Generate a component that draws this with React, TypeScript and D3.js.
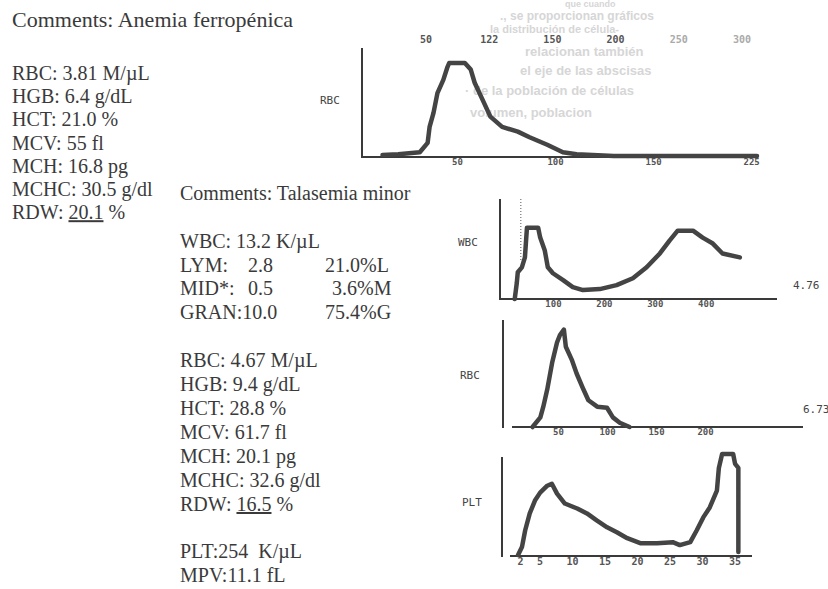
import React, { useEffect, useRef } from 'react';
import * as d3 from 'd3';

// anemia ferropenica - RBC histogram (fL / relative count)
const anemiaRbcFl = [12, 20, 31, 35, 36, 38, 40, 43, 45, 46, 54, 57, 59, 63, 67, 73, 81, 87, 96, 104, 111, 130, 203];
const anemiaRbcCount = [2, 3, 5, 15, 32, 47, 68, 82, 95, 100, 100, 93, 79, 61, 43, 32, 27, 21, 13, 5, 3, 1, 1];
const anemiaTicks = [50, 100, 150, 200];
const anemiaTickLabels = ['50', '100', '150', '225'];
const strayTopLabels = ['50', '122', '150', '200', '250', '300'];

// talasemia minor - WBC histogram
const wbcFl = [25, 29, 31, 39, 45, 49, 71, 75, 84, 90, 100, 120, 139, 159, 192, 225, 257, 284, 310, 329, 345, 375, 394, 414, 433, 467];
const wbcCount = [0, 16, 27, 32, 42, 72, 72, 62, 49, 32, 26, 19, 12, 9, 10, 14, 21, 32, 46, 59, 69, 69, 62, 56, 46, 42];
const wbcTicks = [100, 200, 300, 400];
const wbcThreshold = 37;

// talasemia minor - RBC histogram
const rbcFl = [24, 32, 35, 39, 44, 49, 52, 56, 58, 64, 69, 76, 81, 90, 100, 106, 113, 123];
const rbcCount = [0, 9, 19, 35, 60, 79, 86, 91, 75, 63, 50, 35, 25, 19, 18, 9, 4, 0];
const rbcTicks = [50, 100, 150, 200];

// talasemia minor - PLT histogram
const pltFl = [1.7, 2.3, 2.8, 3.5, 4.3, 5.1, 6.2, 6.9, 7.7, 8.9, 10.8, 12.3, 13.8, 15.4, 16.9, 18.5, 20.5, 23.1, 25.5, 26.6, 28.2, 29.2, 30.2, 31.2, 32.3, 32.6, 33.1, 34.8, 35.1, 35.6, 35.6];
const pltCount = [1, 9, 26, 43, 56, 64, 71, 73, 63, 53, 48, 43, 36, 29, 24, 18, 13, 13, 14, 11, 14, 26, 39, 49, 66, 89, 103, 103, 93, 89, 4];
const pltTicks = [2, 5, 10, 15, 20, 25, 30, 35];

const anemiaLines = ['RBC: 3.81 M/\u00b5L', 'HGB: 6.4 g/dL', 'HCT: 21.0 %', 'MCV: 55 fl', 'MCH: 16.8 pg', 'MCHC: 30.5 g/dl'];
const talRbcLines = ['RBC: 4.67 M/\u00b5L', 'HGB: 9.4 g/dL', 'HCT: 28.8 %', 'MCV: 61.7 fl', 'MCH: 20.1 pg', 'MCHC: 32.6 g/dl'];
const wbcDiff = [
  ['LYM:', '2.8', '21.0%L'],
  ['MID*:', '0.5', '3.6%M'],
  ['GRAN:10.0', '', '75.4%G'],
];

// faint text showing through from the other side of the page
const bleedLines = ['que cuando', '., se proporcionan gr\u00e1ficos', 'la distribuci\u00f3n de c\u00e9lula-', 'relacionan tambi\u00e9n', 'el eje de las abscisas', '\u00b7 de la poblaci\u00f3n de c\u00e9lulas', 'volumen, poblacion'];

const serif = '"Liberation Serif", "Times New Roman", serif';
const mono = '"DejaVu Sans Mono", monospace';
const ink = '#3a3a3a';

const App = () => {
  const ref = useRef<SVGSVGElement>(null);

  useEffect(() => {
    const svg = d3.select(ref.current);
    svg.selectAll('*').remove();

    svg.append('rect').attr('width', 828).attr('height', 589).attr('fill', '#fff');

    // bleed-through text
    const bx = [565, 500, 490, 525, 520, 465, 470];
    const by = [7, 20, 33, 56, 75, 95, 117];
    const bs = [9, 12, 11, 13, 13, 13, 13];
    svg
      .append('g')
      .selectAll('text')
      .data(bleedLines)
      .enter()
      .append('text')
      .attr('x', (d, i) => bx[i])
      .attr('y', (d, i) => by[i])
      .attr('font-family', '"Liberation Sans", Arial, sans-serif')
      .attr('font-weight', 'bold')
      .attr('font-size', (d, i) => bs[i])
      .attr('fill', '#d6d6d6')
      .text(d => d);

    const hist = (o: any) => {
      const g = svg.append('g');
      const x = d3.scaleLinear().domain(o.xDomain).range(o.xRange);
      const y = d3.scaleLinear().domain([0, 100]).range([o.base, o.top]);

      // y axis
      g.append('line')
        .attr('x1', o.yAxisX)
        .attr('x2', o.yAxisX)
        .attr('y1', o.yAxisTop)
        .attr('y2', o.base + 1)
        .attr('stroke', ink)
        .attr('stroke-width', 2);

      // x axis
      const axis = d3
        .axisBottom(x)
        .tickValues(o.ticks)
        .tickSize(0)
        .tickPadding(2)
        .tickFormat((d, i) => (o.labels ? o.labels[i] : String(d)));
      const ag = g.append('g').attr('transform', `translate(0,${o.base})`).call(axis);
      ag.select('.domain').remove();
      ag.selectAll('text')
        .attr('font-family', mono)
        .attr('font-weight', 'bold')
        .attr('font-size', o.tickSize || 9)
        .attr('fill', '#555');
      g.append('line')
        .attr('x1', o.lineFrom)
        .attr('x2', o.xRange[1])
        .attr('y1', o.base)
        .attr('y2', o.base)
        .attr('stroke', ink)
        .attr('stroke-width', 2);

      if (o.threshold !== undefined) {
        g.append('line')
          .attr('x1', x(o.threshold))
          .attr('x2', x(o.threshold))
          .attr('y1', o.yAxisTop)
          .attr('y2', o.yAxisTop + 62)
          .attr('stroke', '#555')
          .attr('stroke-width', 1)
          .attr('stroke-dasharray', '1,2');
      }

      const line = d3
        .line<number>()
        .x((d, i) => x(o.xs[i]))
        .y(d => y(d));
      g.append('path')
        .datum(o.ys)
        .attr('d', line)
        .attr('fill', 'none')
        .attr('stroke', '#444')
        .attr('stroke-width', 4.5)
        .attr('stroke-linejoin', 'round')
        .attr('stroke-linecap', 'round');

      g.append('text')
        .attr('x', o.nameX)
        .attr('y', o.nameY)
        .attr('font-family', mono)
        .attr('font-size', 11)
        .attr('fill', '#444')
        .text(o.name);
    };

    hist({
      xDomain: [0, 203], xRange: [359, 757], base: 157, top: 63, yAxisX: 362, yAxisTop: 48, lineFrom: 361,
      ticks: anemiaTicks, labels: anemiaTickLabels, xs: anemiaRbcFl, ys: anemiaRbcCount,
      name: 'RBC', nameX: 320, nameY: 104,
    });
    hist({
      xDomain: [0, 540], xRange: [502, 777], base: 299, top: 200, yAxisX: 500, yAxisTop: 199, lineFrom: 500,
      ticks: wbcTicks, xs: wbcFl, ys: wbcCount, threshold: wbcThreshold,
      name: 'WBC', nameX: 458, nameY: 246,
    });
    hist({
      xDomain: [0, 300], xRange: [509, 803], base: 427, top: 320, yAxisX: 503, yAxisTop: 320, lineFrom: 512,
      ticks: rbcTicks, xs: rbcFl, ys: rbcCount,
      name: 'RBC', nameX: 460, nameY: 379,
    });
    hist({
      xDomain: [0, 37.7], xRange: [507, 752], base: 556, top: 457, yAxisX: 502, yAxisTop: 457, lineFrom: 510,
      ticks: pltTicks, xs: pltFl, ys: pltCount, tickSize: 10,
      name: 'PLT', nameX: 462, nameY: 506,
    });

    // stray tick labels above the first histogram
    const sp = d3.scalePoint().domain(strayTopLabels).range([426, 742]);
    svg
      .append('g')
      .selectAll('text')
      .data(strayTopLabels)
      .enter()
      .append('text')
      .attr('x', d => sp(d) as number)
      .attr('y', 43)
      .attr('text-anchor', 'middle')
      .attr('font-family', mono)
      .attr('font-weight', 'bold')
      .attr('font-size', 10)
      .attr('fill', (d, i) => (i > 3 ? '#aaa' : '#555'))
      .text(d => d);

    const side = svg.append('g').attr('font-family', mono).attr('font-size', 11).attr('fill', '#444');
    side.append('text').attr('x', 793).attr('y', 289).text('4.76');
    side.append('text').attr('x', 803).attr('y', 413).text('6.73');

    // text blocks
    const txt = svg.append('g').attr('font-family', serif).attr('font-size', 20).attr('fill', ink);
    txt.append('text').attr('x', 12).attr('y', 27).attr('font-size', 22).text('Comments: Anemia ferrop\u00e9nica');
    anemiaLines.forEach((s, i) => {
      txt.append('text').attr('x', 12).attr('y', 80 + i * 23.2).text(s);
    });
    const rdw1 = txt.append('text').attr('x', 12).attr('y', 80 + 6 * 23.2);
    rdw1.append('tspan').text('RDW: ');
    rdw1.append('tspan').attr('text-decoration', 'underline').text('20.1');
    rdw1.append('tspan').text(' %');

    txt.append('text').attr('x', 180).attr('y', 200).text('Comments: Talasemia minor');
    txt.append('text').attr('x', 180).attr('y', 248).text('WBC: 13.2 K/\u00b5L');
    const colX = [180, 248, 325];
    wbcDiff.forEach((row, i) => {
      row.forEach((s, j) => {
        if (!s) return;
        txt.append('text').attr('x', j === 2 && i === 1 ? 332 : colX[j]).attr('y', 271.5 + i * 23.5).text(s);
      });
    });
    talRbcLines.forEach((s, i) => {
      txt.append('text').attr('x', 180).attr('y', 367 + i * 24).text(s);
    });
    const rdw2 = txt.append('text').attr('x', 180).attr('y', 367 + 6 * 24);
    rdw2.append('tspan').text('RDW: ');
    rdw2.append('tspan').attr('text-decoration', 'underline').text('16.5');
    rdw2.append('tspan').text(' %');
    txt.append('text').attr('x', 180).attr('y', 558).attr('xml:space', 'preserve').text('PLT:254  K/\u00b5L');
    txt.append('text').attr('x', 180).attr('y', 582).text('MPV:11.1 fL');
  }, []);

  return (
    <div style={{ position: 'fixed', left: 0, top: 0, width: 828, height: 589, overflow: 'hidden' }}>
      <svg ref={ref} width={828} height={589} style={{ display: 'block' }} />
    </div>
  );
};

export default App;
